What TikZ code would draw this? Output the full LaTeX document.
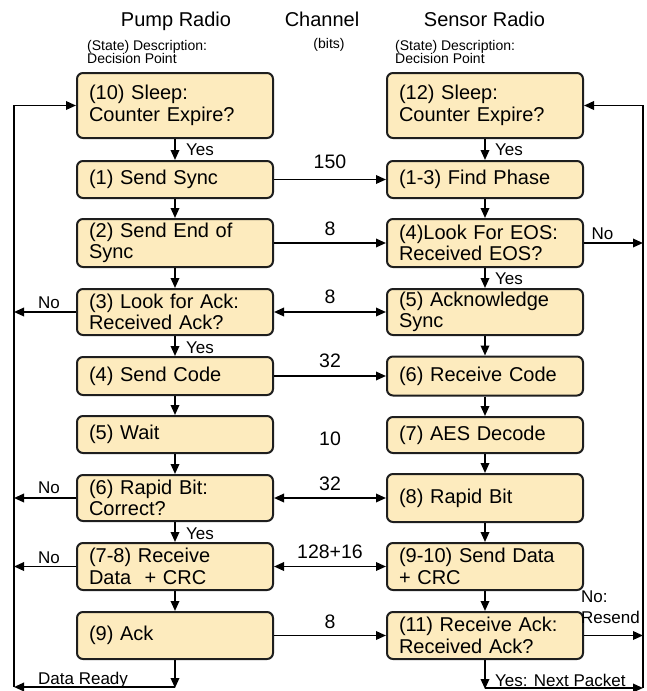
\documentclass[tikz,border=0pt]{standalone}
\usepackage{fontspec}
\setmainfont{Liberation Sans}
\usetikzlibrary{arrows.meta}
\definecolor{boxfill}{RGB}{253,235,190}
\definecolor{boxline}{RGB}{30,30,30}
\begin{document}
\begin{tikzpicture}[x=1pt,y=-1pt,
  box/.style={draw=boxline, line width=2pt, fill=boxfill, rounded corners=6pt,
    minimum width=196pt, text width=172pt, inner xsep=12pt, inner ysep=0pt,
    align=left, font=\fontsize{20}{21.5}\selectfont},
  tip/.tip={Triangle[length=10pt,width=8.5pt]},
  arr/.style={line width=1.8pt, -tip},
  dbl/.style={line width=1.8pt, tip-tip},
  lbl/.style={font=\fontsize{17}{18}\selectfont, inner sep=0pt},
  num/.style={font=\fontsize{19.5}{20}\selectfont, inner sep=0pt, anchor=base},
  head/.style={font=\fontsize{20}{21}\selectfont, inner sep=0pt, anchor=base},
  small/.style={font=\fontsize{14}{15}\selectfont, inner sep=0pt, anchor=base west},
]
\useasboundingbox (0,0) rectangle (647,691);

% headers
\node[head] (hp) at (176,26) {Pump Radio};
\node[head] (hc) at (322,26) {Channel};
\node[head] (hs) at (484.5,26) {Sensor Radio};
\node[small, anchor=base] (hb) at (329,48) {(bits)};
\node[small] (pd1) at (87,50) {(State) Description:};
\node[small] (pd2) at (87,63.5) {Decision Point};
\node[small] (sd1) at (395,50) {(State) Description:};
\node[small] (sd2) at (395,63.5) {Decision Point};

% left column
\node[box, minimum height=65pt] (L10) at (175,105.5) {(10) Sleep:\\Counter Expire?};
\node[box, minimum height=37pt] (L1) at (175,179.5) {(1) Send Sync};
\node[box, minimum height=48pt] (L2) at (175,243) {(2) Send End of\\Sync};
\node[box, minimum height=46pt] (L3) at (175,312) {(3) Look for Ack:\\Received Ack?};
\node[box, minimum height=38pt] (L4) at (175,376) {(4) Send Code};
\node[box, minimum height=37pt] (L5) at (175,434.5) {(5) Wait};
\node[box, minimum height=46pt] (L6) at (175,498) {(6) Rapid Bit:\\Correct?};
\node[box, minimum height=47pt] (L78) at (175,566.5) {(7-8) Receive\\Data\ \ + CRC};
\node[box, minimum height=47pt] (L9) at (175,635.5) {(9) Ack};

% right column
\node[box, minimum height=65pt] (R12) at (485,105.5) {(12) Sleep:\\Counter Expire?};
\node[box, minimum height=37pt] (R13) at (485,179.5) {(1-3) Find Phase};
\node[box, minimum height=48pt] (R4) at (485,243) {(4)Look For EOS:\\Received EOS?};
\node[box, minimum height=46pt] (R5) at (485,312) {(5) Acknowledge\\Sync};
\node[box, minimum height=39pt] (R6) at (485,376) {(6) Receive Code};
\node[box, minimum height=36pt] (R7) at (485,435) {(7) AES Decode};
\node[box, minimum height=48pt] (R8) at (485,498) {(8) Rapid Bit};
\node[box, minimum height=47pt] (R910) at (485,566.5) {(9-10) Send Data\\+ CRC};
\node[box, minimum height=47pt] (R11) at (485,635.5) {(11) Receive Ack:\\Received Ack?};

% loop coordinates
\coordinate (BL) at (14,687);
\coordinate (BLm) at (175,687);
\coordinate (BR) at (643,688);
\coordinate (BRm) at (485,688);

% left vertical flow
\draw[arr] (L10) -- (L1);
\draw[arr] (L1) -- (L2);
\draw[arr] (L2) -- (L3);
\draw[arr] (L3) -- (L4);
\draw[arr] (L4) -- (L5);
\draw[arr] (L5) -- (L6);
\draw[arr] (L6) -- (L78);
\draw[arr] (L78) -- (L9);
\draw[arr] (L9) -- ([yshift=-1pt]BLm);
\draw[arr] (BLm) -- (BL);
\draw[arr] (BL) |- (L10.west);
\draw[arr] (L3.west) -- (L3.west -| BL);
\draw[arr] (L6.west) -- (L6.west -| BL);
\draw[arr] (L78.west) -- (L78.west -| BL);

% right vertical flow
\draw[arr] (R12) -- (R13);
\draw[arr] (R13) -- (R4);
\draw[arr] (R4) -- (R5);
\draw[arr] (R5) -- (R6);
\draw[arr] (R6) -- (R7);
\draw[arr] (R7) -- (R8);
\draw[arr] (R8) -- (R910);
\draw[arr] (R910) -- (R11);
\draw[arr] (R11) -- ([yshift=-1pt]BRm);
\draw[arr] (BRm) -- (BR);
\draw[arr] (BR) |- (R12.east);
\draw[arr] (R4.east) -- (R4.east -| BR);
\draw[arr] (R11.east) -- (R11.east -| BR);

% channel
\draw[arr] (L1) -- (R13);
\draw[arr] (L2) -- (R4);
\draw[dbl] (L3) -- (R5);
\draw[arr] (L4) -- (R6);
\draw[dbl] (L6) -- (R8);
\draw[dbl] (L78) -- (R910);
\draw[arr] (L9) -- (R11);

\node[num] (n1) at (330,168) {150};
\node[num] (n2) at (330,235) {8};
\node[num] (n3) at (330,303) {8};
\node[num] (n4) at (330,367) {32};
\node[num] (n5) at (330,445) {10};
\node[num] (n6) at (330,490) {32};
\node[num] (n7) at (330,558) {128+16};
\node[num] (n8) at (330,628) {8};

% labels
\node[lbl, anchor=base west] (y1) at (186,155) {Yes};
\node[lbl, anchor=base west] (y2) at (186,353) {Yes};
\node[lbl, anchor=base west] (y3) at (186,539) {Yes};
\node[lbl, anchor=base west] (y4) at (495,155) {Yes};
\node[lbl, anchor=base west] (y5) at (495,284) {Yes};
\node[lbl, anchor=base] (no1) at (49,308) {No};
\node[lbl, anchor=base] (no2) at (49,493) {No};
\node[lbl, anchor=base] (no3) at (49,563) {No};
\node[lbl, anchor=base] (no4) at (602.5,239) {No};
\node[lbl, anchor=base west] (nr1) at (581,602) {No:};
\node[lbl, anchor=base west] (nr2) at (581,623) {Resend};
\node[lbl, anchor=base west] (dr) at (38,684) {Data Ready};
\node[lbl, anchor=base west] (np) at (495,686) {Yes: Next Packet};
\end{tikzpicture}
\end{document}
